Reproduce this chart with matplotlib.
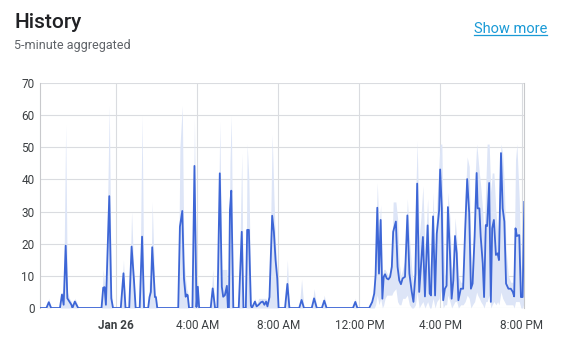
import matplotlib
matplotlib.use("Agg")
import matplotlib.pyplot as plt
from matplotlib.lines import Line2D

plt.rcParams['font.family'] = ['Roboto', 'DejaVu Sans']

# minutes from midnight Jan 26 (negative = evening of Jan 25)
minutes = [-225, -206, -199, -192, -166, -160, -155, -149, -144, -138, -132, -129, -122, -117, -112,
           -43, -38, -34, -30, -20, -14, -9, 14, 22, 28, 39, 46, 53, 58, 70, 77, 83,
           95, 99, 103, 107, 115, 118, 122, 184, 189, 196, 201, 206, 209, 212, 216,
           226, 232, 238, 242, 246, 280, 286, 293, 300, 307, 313, 317, 322, 328, 331,
           334, 337, 341, 347, 363, 372, 377, 384, 388, 393, 399, 402, 411, 416, 422,
           429, 434, 439, 444, 448, 454, 462, 467, 472, 477, 481, 500, 507, 513,
           542, 549, 556, 579, 586, 594, 609, 616, 623, 701, 708, 714,
           749, 758, 764, 768, 773, 778, 783, 788, 792, 796, 801, 806, 811, 816, 820,
           828, 833, 838, 843, 848, 855, 862, 868, 875, 880, 886, 891, 897, 902, 908,
           914, 922, 928, 932, 938, 944, 949, 956, 959, 964, 968, 973, 978, 982, 988,
           993, 998, 1003, 1008, 1013, 1020, 1027, 1033, 1039, 1045, 1050, 1055, 1061,
           1067, 1070, 1075, 1079, 1085, 1089, 1094, 1098, 1104, 1109, 1113, 1118, 1124,
           1129, 1133, 1139, 1144, 1149, 1154, 1161, 1168, 1174, 1178, 1182, 1186, 1193,
           1198, 1203, 1208]

avg_vals = [0, 0, 1.8, 0, 0, 4.2, 1, 19.4, 3, 2, 1, 0, 2, 1, 0,
            0, 6.3, 6.5, 1, 34.8, 3, 0, 0, 10.8, 0, 0, 19.1, 8.7, 0, 0, 22.2, 0,
            0, 3.4, 5, 18.9, 3.4, 3.4, 0, 0, 25.3, 30.2, 9.2, 3.5, 4.2, 4, 0,
            0, 44.2, 0.3, 6.6, 0, 0, 6.1, 0, 0, 41.9, 6.6, 3.5, 4, 6.9, 0,
            0, 30.5, 36.5, 0, 0, 23.7, 0, 0, 24.3, 24.3, 0.8, 0, 2, 0.5, 1,
            1.8, 2, 1, 2, 0.5, 3.4, 28.7, 23.7, 14.9, 9.2, 0, 0, 7.5, 0,
            0, 2.5, 0, 0, 3, 0, 0, 2.3, 0, 0, 1.9, 0,
            0, 1.9, 4.5, 10.2, 31.2, 10.7, 27.4, 2.9, 9.7, 10.5, 9.2, 8.9, 9.7, 12.8, 23.7,
            26.9, 12.8, 8.6, 7.4, 9.2, 9.7, 28.8, 10.7, 5, 1.9, 10.7, 38.7, 5, 12.8, 22.1,
            3.6, 25.7, 4.5, 3.9, 28.5, 3.9, 23.1, 30.4, 43.1, 31, 2.4, 6, 6.9, 31.4, 17,
            2.9, 8.6, 22.4, 17, 2.4, 6, 6, 24.3, 40.1, 29.5, 6, 7.6, 22.2,
            42, 31, 31, 22.2, 13.9, 3.4, 25.8, 25.5, 38.9, 1.9, 24.8, 27.4, 16.5,
            17, 14.9, 48.2, 31, 26.9, 7.6, 6, 6, 5, 3.6, 24.8, 22.4, 22.7,
            3.4, 3.4, 33]

max_vals = [0, 0, 3, 0, 0, 5, 4, 57, 5, 3, 2, 0, 3, 2, 0,
            0, 12, 8, 2, 63, 5, 0, 0, 15, 0, 0, 30, 10, 0, 0, 60, 0,
            0, 9, 7, 33, 5, 4, 0, 0, 50, 63, 15, 9, 6, 5, 0,
            0, 59, 1, 9, 0, 0, 12, 0, 0, 58, 12, 12, 12, 12, 0,
            0, 45, 60, 0, 0, 48, 0, 0, 51, 40, 3, 0, 3, 1, 3,
            3, 3, 3, 3, 1, 5, 54, 35, 20, 12, 0, 0, 15, 0,
            0, 9, 0, 0, 6, 0, 0, 4, 0, 0, 3, 0,
            0, 3, 8, 20, 39, 25, 32, 10, 12, 12, 11, 10, 12, 18, 33,
            33, 28, 14, 10, 12, 15, 34, 22, 12, 8, 32, 52, 22, 28, 38,
            18, 34, 14, 10, 36, 14, 32, 46, 51, 51, 24, 10, 12, 36, 28,
            12, 14, 28, 22, 10, 8, 8, 34, 47, 44, 18, 12, 38,
            51, 48, 42, 38, 30, 22, 38, 51, 51, 36, 42, 42, 30,
            24, 30, 51, 48, 38, 18, 10, 8, 8, 14, 46, 51, 34,
            14, 6, 42]

min_vals = [0, 0, 0, 0, 0, 0, 0, 0, 0, 0, 0, 0, 0, 0, 0,
            0, 0, 0, 0, 0, 0, 0, 0, 0, 0, 0, 0, 0, 0, 0, 0, 0,
            0, 0, 0, 0, 0, 0, 0, 0, 0, 0, 0, 0, 0, 0, 0,
            0, 0, 0, 0, 0, 0, 0, 0, 0, 0, 0, 0, 0, 0, 0,
            0, 0, 0, 0, 0, 0, 0, 0, 0, 0, 0, 0, 0, 0, 0,
            0, 0, 0, 0, 0, 0, 0, 0, 0, 0, 0, 0, 0, 0,
            0, 0, 0, 0, 0, 0, 0, 0, 0, 0, 0, 0,
            0, 0, 0, 1, 4, 1, 3, 0, 1, 3, 4, 4, 4, 4, 5,
            6, 2, 1, 1, 3, 3, 4, 1, 0, 0, 1, 5, 0, 1, 2,
            0, 2, 0, 0, 3, 0, 2, 3, 6, 4, 0, 1, 1, 4, 2,
            0, 1, 2, 2, 0, 1, 1, 2, 4, 3, 0, 1, 2,
            5, 4, 3, 2, 1, 0, 2, 2, 4, 0, 1, 2, 1,
            2, 1, 5, 3, 2, 1, 1, 1, 1, 0, 2, 2, 2,
            0, 0, 2]

tick_minutes = [0, 240, 480, 720, 960, 1200]
tick_labels = ['Jan 26', '4:00 AM', '8:00 AM', '12:00 PM', '4:00 PM', '8:00 PM']
y_ticks = [0, 10, 20, 30, 40, 50, 60, 70]

grid_col = '#dadce0'
fig = plt.figure(figsize=(5.62, 3.49), dpi=100)
ax = fig.add_axes([40 / 562, 1 - 308 / 349, (524.3 - 40) / 562, (308 - 83) / 349])

ax.fill_between(minutes, min_vals, max_vals, color='#dde5f7', lw=0, zorder=2)
ax.plot(minutes, avg_vals, color='#3d66d6', lw=1.3, zorder=3, solid_joinstyle='round')

ax.set_xlim(minutes[0], minutes[-1])
ax.set_ylim(0, 70)
ax.set_yticks(y_ticks)
ax.set_xticks(tick_minutes)
ax.set_xticklabels(tick_labels)
ax.get_xticklabels()[0].set_fontweight('bold')
ax.tick_params(axis='both', length=0, labelsize=8.5, colors='#3c4043')
ax.tick_params(axis='x', pad=8)
ax.tick_params(axis='y', pad=4)
ax.grid(True, color=grid_col, lw=0.8, zorder=0)
for side in ['top', 'bottom']:
    ax.spines[side].set_visible(False)
for side in ['left', 'right']:
    ax.spines[side].set_color('#c8c9cc')
    ax.spines[side].set_linewidth(0.8)

fig.text(14 / 562, 1 - 28 / 349, 'History', fontsize=15, fontweight='medium', color='#202124')
fig.text(14 / 562, 1 - 49 / 349, '5-minute aggregated', fontsize=9, color='#5f6368')
show = fig.text(547 / 562, 1 - 33 / 349, 'Show more', fontsize=10.5, color='#1a9ad6', ha='right')

# underline for the link
fig.canvas.draw()
bb = show.get_window_extent().transformed(fig.transFigure.inverted())
fig.add_artist(Line2D([bb.x0, bb.x1], [bb.y0 + 0.004, bb.y0 + 0.004],
                      transform=fig.transFigure, color='#1a9ad6', lw=0.9))

fig.savefig('out.png', dpi=100)
